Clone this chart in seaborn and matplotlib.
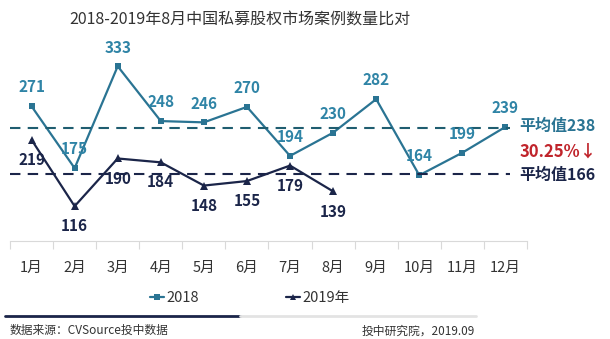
import matplotlib
matplotlib.use("Agg")
import matplotlib.pyplot as plt
from matplotlib.lines import Line2D
import seaborn as sns
import pandas as pd

months = ["1月", "2月", "3月", "4月", "5月", "6月", "7月", "8月", "9月", "10月", "11月", "12月"]
cases_2018 = [271, 175, 333, 248, 246, 270, 194, 230, 282, 164, 199, 239]
cases_2019 = [219, 116, 190, 184, 148, 155, 179, 139]
avg_2018 = 238
avg_2019 = 166
change_text = "30.25%↓"

sns.set_theme(style="white")
plt.rcParams["font.family"] = ["Noto Sans CJK SC", "DejaVu Sans"]

C18 = "#2a7493"
C18_TXT = "#2f84a6"
C19 = "#1b2549"
RED = "#c0242b"

df18 = pd.DataFrame({"idx": range(len(cases_2018)), "val": cases_2018})
df19 = pd.DataFrame({"idx": range(len(cases_2019)), "val": cases_2019})

fig = plt.figure(figsize=(6.10, 3.39), dpi=100)
ax = fig.add_axes([0.0164, 0.289, 0.8475, 0.643])

sns.lineplot(data=df18, x="idx", y="val", ax=ax, color=C18, lw=1.6,
             marker="s", markersize=5, markeredgewidth=0, markerfacecolor=C18)
sns.lineplot(data=df19, x="idx", y="val", ax=ax, color=C19, lw=1.6,
             marker="^", markersize=6, markeredgewidth=0, markerfacecolor=C19)

# average reference lines
ax.plot([-0.5, 11.1], [avg_2018, avg_2018], color="#1f5d70", lw=1.5, ls=(0, (5, 3.5)))
ax.plot([-0.5, 11.1], [avg_2019, avg_2019], color=C19, lw=1.5, ls=(0, (5, 3.5)))

for i, v in enumerate(cases_2018):
    ax.annotate(str(v), (i, v), xytext=(0, 13.5), textcoords="offset points",
                ha="center", va="center", fontsize=11, fontweight="bold", color=C18_TXT)
for i, v in enumerate(cases_2019):
    ax.annotate(str(v), (i, v), xytext=(0, -14.5), textcoords="offset points",
                ha="center", va="center", fontsize=11, fontweight="bold", color=C19)

ax.set_xlim(-0.5, 11.5)
ax.set_ylim(62, 400)
ax.set_xticks([i - 0.5 for i in range(13)], minor=False)
ax.set_xticklabels([])
ax.set_xticks(range(12), minor=True)
ax.set_xticklabels(months, minor=True, fontsize=10.5, color="#333333")
ax.tick_params(axis="x", which="major", direction="out", length=6, color="#d9d9d9", width=0.8, bottom=True)
ax.tick_params(axis="x", which="minor", length=0, pad=14)
ax.set_yticks([])
ax.set_xlabel("")
ax.set_ylabel("")
for s in ["top", "right", "left"]:
    ax.spines[s].set_visible(False)
ax.spines["bottom"].set_color("#d9d9d9")
ax.spines["bottom"].set_linewidth(0.8)

fig.text(0.393, 0.94, "2018-2019年8月中国私募股权市场案例数量比对", ha="center", va="center",
         fontsize=11.5, color="#333333")

fig.text(0.852, 0.627, "平均值238", ha="left", va="center", fontsize=11.5, fontweight="bold", color=C18)
fig.text(0.852, 0.552, change_text, ha="left", va="center", fontsize=12, fontweight="bold", color=RED)
fig.text(0.852, 0.484, "平均值166", ha="left", va="center", fontsize=11.5, fontweight="bold", color=C19)

handles = [Line2D([], [], color=C18, lw=1.6, marker="s", markersize=4, markeredgewidth=0),
           Line2D([], [], color=C19, lw=1.6, marker="^", markersize=5, markeredgewidth=0)]
fig.legend(handles, ["2018", "2019年"], loc="center", bbox_to_anchor=(0.41, 0.12), ncol=2,
           frameon=False, fontsize=10.5, handlelength=0.9, handletextpad=0.2, columnspacing=6.0,
           labelcolor="#333333")

# footer rule and source notes
fig.add_artist(Line2D([0.008, 0.394], [0.068, 0.068], color=C19, lw=2.0, transform=fig.transFigure))
fig.add_artist(Line2D([0.394, 0.78], [0.068, 0.068], color="#e3e3e3", lw=2.0, transform=fig.transFigure))
fig.text(0.016, 0.024, "数据来源：CVSource投中数据", ha="left", va="center", fontsize=8.5, color="#333333")
fig.text(0.778, 0.024, "投中研究院，2019.09", ha="right", va="center", fontsize=8.5, color="#333333")

fig.savefig("out.png", dpi=100, facecolor="white")
